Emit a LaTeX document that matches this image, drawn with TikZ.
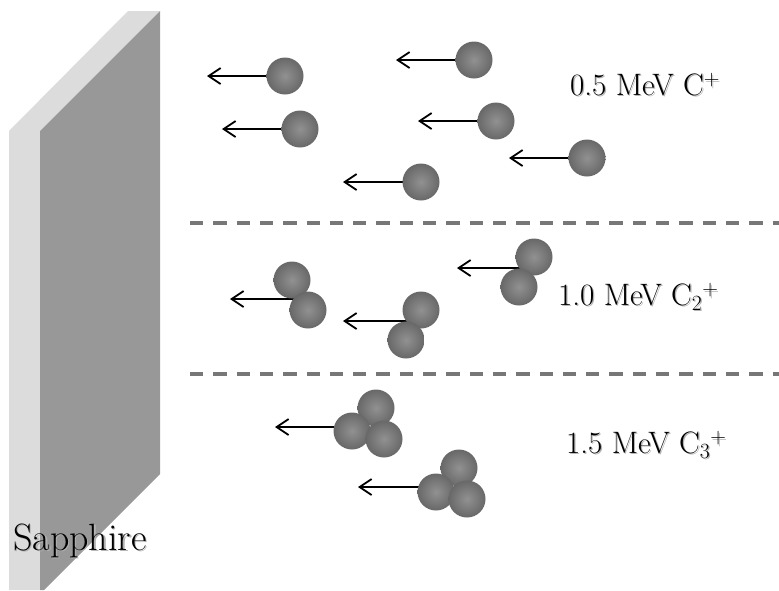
\documentclass[tikz,border=0pt]{standalone}
\usetikzlibrary{arrows.meta}
\begin{document}
\begin{tikzpicture}[x=1pt,y=-1pt,
  ball/.style={circle,minimum size=37pt,inner sep=0pt,
    shading=radial,inner color=ballin,outer color=ballout},
  arr/.style={line width=1.8pt,-{Straight Barb[length=12pt,width=16pt]}},
  sep/.style={draw=sepgray,line width=4pt,dash pattern=on 13.3pt off 10pt},
  lbl/.style={anchor=base west,inner sep=0pt,font=\fontsize{31}{31}\selectfont},
  shadowtxt/.style={text=black!30}]
\definecolor{ballin}{HTML}{919191}
\definecolor{ballout}{HTML}{686868}
\definecolor{slablight}{HTML}{DCDCDC}
\definecolor{slabdark}{HTML}{989898}
\definecolor{sepgray}{HTML}{777777}
\useasboundingbox (0,0) rectangle (779,590);

% sapphire slab
\fill[slablight] (9,131) -- (128,11) -- (160,11) -- (40,131) -- (40,590) -- (9,590) -- cycle;
\fill[slabdark] (40,131) -- (160,11) -- (160,474) -- (44,590) -- (40,590) -- cycle;
\node[anchor=base west,inner sep=0pt,font=\fontsize{38}{38}\selectfont,shadowtxt] at (14.5,551.5) {Sapphire};
\node[anchor=base west,inner sep=0pt,font=\fontsize{38}{38}\selectfont] (sap) at (13,550) {Sapphire};

% separators
\coordinate (s1a) at (190,223); \coordinate (s1b) at (779,223);
\coordinate (s2a) at (190,374); \coordinate (s2b) at (779,374);
\draw[sep] (s1a) -- (s1b);
\draw[sep] (s2a) -- (s2b);

% arrow tips
\coordinate (t1) at (207,76);  \coordinate (t2) at (396,60);
\coordinate (t3) at (222,129); \coordinate (t4) at (418,121);
\coordinate (t5) at (509,158); \coordinate (t6) at (343,182);
\coordinate (t7) at (230,299); \coordinate (t8) at (343,321);
\coordinate (t9) at (457,268);
\coordinate (t10) at (275,427); \coordinate (t11) at (358,487);

% molecule centres
\coordinate (m1) at (285,76);  \coordinate (m2) at (474,60);
\coordinate (m3) at (300,129); \coordinate (m4) at (496,121);
\coordinate (m5) at (587,158); \coordinate (m6) at (421,182);
\coordinate (m7) at (300,299); \coordinate (m8) at (413,321);
\coordinate (m9) at (526,268);
\coordinate (m10) at (362,427); \coordinate (m11) at (446,487);

\foreach \i in {1,...,11} \draw[arr] (m\i) -- (t\i);

% C+ ions
\node[ball] (a1) at (m1) {};
\node[ball] (a2) at (m2) {};
\node[ball] (a3) at (m3) {};
\node[ball] (a4) at (m4) {};
\node[ball] (a5) at (m5) {};
\node[ball] (a6) at (m6) {};

% C2+ ions
\node[ball] (b1t) at (292,280) {};
\node[ball] (b1b) at (308,310) {};
\node[ball] (b2t) at (421,310) {};
\node[ball] (b2b) at (406,340) {};
\node[ball] (b3t) at (534,257) {};
\node[ball] (b3b) at (519,287) {};

% C3+ ions
\node[ball] (c1t) at (376,408) {};
\node[ball] (c1l) at (352,431) {};
\node[ball] (c1r) at (384,439) {};
\node[ball] (c2t) at (459,468) {};
\node[ball] (c2l) at (436,492) {};
\node[ball] (c2r) at (467,499) {};

% beam labels
\node[lbl,shadowtxt] at (571.2,96.2) {0.5 MeV C\textsuperscript{+}};
\node[lbl] (l1) at (570,95) {0.5 MeV C\textsuperscript{+}};
\node[lbl,shadowtxt] at (559.2,306.2) {1.0 MeV C\textsubscript{2}\textsuperscript{+}};
\node[lbl] (l2) at (558,305) {1.0 MeV C\textsubscript{2}\textsuperscript{+}};
\node[lbl,shadowtxt] at (567.2,454.2) {1.5 MeV C\textsubscript{3}\textsuperscript{+}};
\node[lbl] (l3) at (566,453) {1.5 MeV C\textsubscript{3}\textsuperscript{+}};
\end{tikzpicture}
\end{document}
